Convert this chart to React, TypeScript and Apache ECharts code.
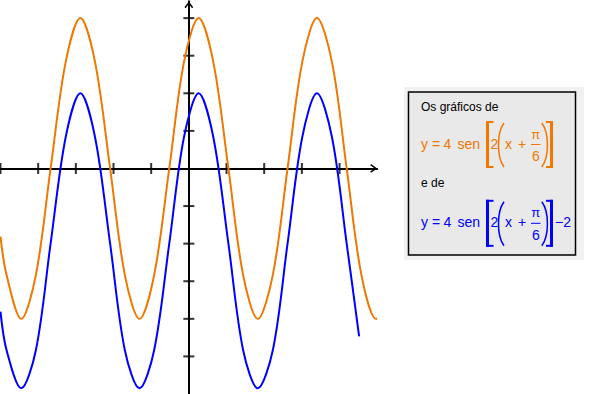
import { useEffect, useRef } from "react";
import * as echarts from "echarts";

// Tick positions on the axes (no labels in the reference)
const xTickValues = [-5, -4, -3, -2, -1, 1, 2, 3, 4];
const yTickValues = [-5, -4, -3, -2, -1, 1, 2, 3, 4];

// Orange curve: y = 4 sen[2(x + π/6)]
const orangeX = [-5, -4.84, -4.45, -4.06, -3.67, -3.27, -2.88, -2.49, -2.09, -1.7, -1.31, -0.92, -0.52, -0.13, 0.26, 0.65, 1.05, 1.44, 1.83, 2.23, 2.62, 3.01, 3.4, 3.8, 4.19, 4.58, 4.97, 5.0];
const orangeY = [-1.81, -2.83, -4, -2.83, 0, 2.83, 4, 2.83, 0, -2.83, -4, -2.83, 0, 2.83, 4, 2.83, 0, -2.83, -4, -2.83, 0, 2.83, 4, 2.83, 0, -2.83, -4, -4.0];

// Blue curve: y = 4 sen[2(x + π/6)] − 2
const blueX = [-5, -4.84, -4.45, -4.06, -3.67, -3.27, -2.88, -2.49, -2.09, -1.7, -1.31, -0.92, -0.52, -0.13, 0.26, 0.65, 1.05, 1.44, 1.83, 2.23, 2.62, 3.01, 3.4, 3.8, 4.19, 4.52];
const blueY = [-3.81, -4.83, -5.85, -4.83, -2, 0.83, 2, 0.83, -2, -4.83, -5.85, -4.83, -2, 0.83, 2, 0.83, -2, -4.83, -5.85, -4.83, -2, 0.83, 2, 0.83, -2, -4.47];

const ORANGE = "#f07800";
const BLUE = "#0000ff";
const FONT = '"Liberation Sans", Arial, sans-serif';

const CHEVRON = "path://M5 0 L10 7 L8.6 8 L5 2.8 L1.4 8 L0 7 Z";

function txt(text: string, x: number, y: number, size: number, color: string, align = "left") {
  return {
    type: "text",
    x,
    y,
    silent: true,
    style: {
      text,
      fill: color,
      font: `${size}px ${FONT}`,
      textAlign: align,
      align,
      textVerticalAlign: "middle",
      verticalAlign: "middle",
    },
  };
}

function rect(x: number, y: number, w: number, h: number, color: string) {
  return { type: "rect", silent: true, shape: { x, y, width: w, height: h }, style: { fill: color } };
}

function formula(color: string, dy: number, tail?: string) {
  const yc = 143.5 + dy;
  const top = 121 + dy;
  const els: any[] = [
    txt("y =", 421, yc, 14, color),
    txt("4", 443.5, yc, 14, color),
    txt("sen", 457.5, yc, 14, color),
    // left bracket
    rect(486, top, 3, 47, color),
    rect(486, top, 7.5, 2, color),
    rect(486, top + 45, 7.5, 2, color),
    txt("2", 490.6, yc, 14, color),
    // left parenthesis
    {
      type: "bezierCurve",
      silent: true,
      shape: { x1: 504, y1: 123 + dy, x2: 504, y2: 167 + dy, cpx1: 496.6, cpy1: 133 + dy, cpx2: 496.6, cpy2: 157 + dy },
      style: { stroke: color, lineWidth: 1.5, fill: "none" },
    },
    txt("x", 505, yc, 14, color),
    txt("+", 518, yc, 14, color),
    txt("π", 535.7, 134 + dy, 13, color, "center"),
    {
      type: "line",
      silent: true,
      shape: { x1: 531, y1: 144.5 + dy, x2: 540.5, y2: 144.5 + dy },
      style: { stroke: color, lineWidth: 1 },
    },
    txt("6", 535.8, 156 + dy, 14, color, "center"),
    // right parenthesis
    {
      type: "bezierCurve",
      silent: true,
      shape: { x1: 541.8, y1: 123 + dy, x2: 541.8, y2: 167 + dy, cpx1: 549.3, cpy1: 133 + dy, cpx2: 549.3, cpy2: 157 + dy },
      style: { stroke: color, lineWidth: 1.5, fill: "none" },
    },
    // right bracket
    rect(550, top, 3, 47, color),
    rect(546, top, 7, 2, color),
    rect(546, top + 45, 7, 2, color),
  ];
  if (tail) els.push(txt(tail, 555, yc, 14, color));
  return els;
}

export default function App() {
  const ref = useRef<HTMLDivElement>(null);

  useEffect(() => {
    if (!ref.current) return;
    const chart = echarts.init(ref.current, null, { renderer: "svg" });

    const axisLine = (color: string) => ({
      onZero: true,
      lineStyle: { color, width: 2 },
      symbol: ["none", CHEVRON],
      symbolSize: [11, 7],
      symbolOffset: [0, -3.5],
    });

    chart.setOption({
      animation: false,
      backgroundColor: "#ffffff",
      grid: { left: 0.5, top: 1.2, width: 376.7, height: 394, containLabel: false },
      xAxis: {
        type: "value",
        min: -5,
        max: 5,
        interval: 1,
        axisLine: axisLine("#000"),
        axisTick: { show: false },
        axisLabel: { show: false },
        splitLine: { show: false },
      },
      yAxis: {
        type: "value",
        min: -6,
        max: 4.45,
        axisLine: axisLine("#000"),
        axisTick: { show: false },
        axisLabel: { show: false },
        splitLine: { show: false },
      },
      series: [
        {
          type: "scatter",
          silent: true,
          symbol: "rect",
          symbolSize: [2, 11],
          itemStyle: { color: "#000" },
          data: xTickValues.map((v) => [v, 0]),
          z: 1,
        },
        {
          type: "scatter",
          silent: true,
          symbol: "rect",
          symbolSize: [11, 2],
          itemStyle: { color: "#000" },
          data: yTickValues.map((v) => [0, v]),
          z: 1,
        },
        {
          type: "line",
          silent: true,
          showSymbol: false,
          smooth: 0.33,
          lineStyle: { color: BLUE, width: 2 },
          data: blueX.map((x, i) => [x, blueY[i]]),
          z: 2,
        },
        {
          type: "line",
          silent: true,
          showSymbol: false,
          smooth: 0.33,
          lineStyle: { color: ORANGE, width: 2 },
          data: orangeX.map((x, i) => [x, orangeY[i]]),
          z: 2,
        },
      ],
      graphic: [
        rect(404, 87, 180, 173, "#f1f1f1"),
        {
          type: "rect",
          silent: true,
          shape: { x: 408.5, y: 92, width: 167, height: 163 },
          style: { fill: "#e9e9e9", stroke: "#000", lineWidth: 1.5 },
        },
        txt("Os gráficos de", 421, 107.3, 12, "#000"),
        ...formula(ORANGE, 0),
        txt("e de", 421, 182.5, 12, "#000"),
        ...formula(BLUE, 78.8, "−2"),
      ],
    });

    return () => chart.dispose();
  }, []);

  return (
    <div
      ref={ref}
      style={{ position: "absolute", left: 0, top: 0, width: 595, height: 394 }}
    />
  );
}
